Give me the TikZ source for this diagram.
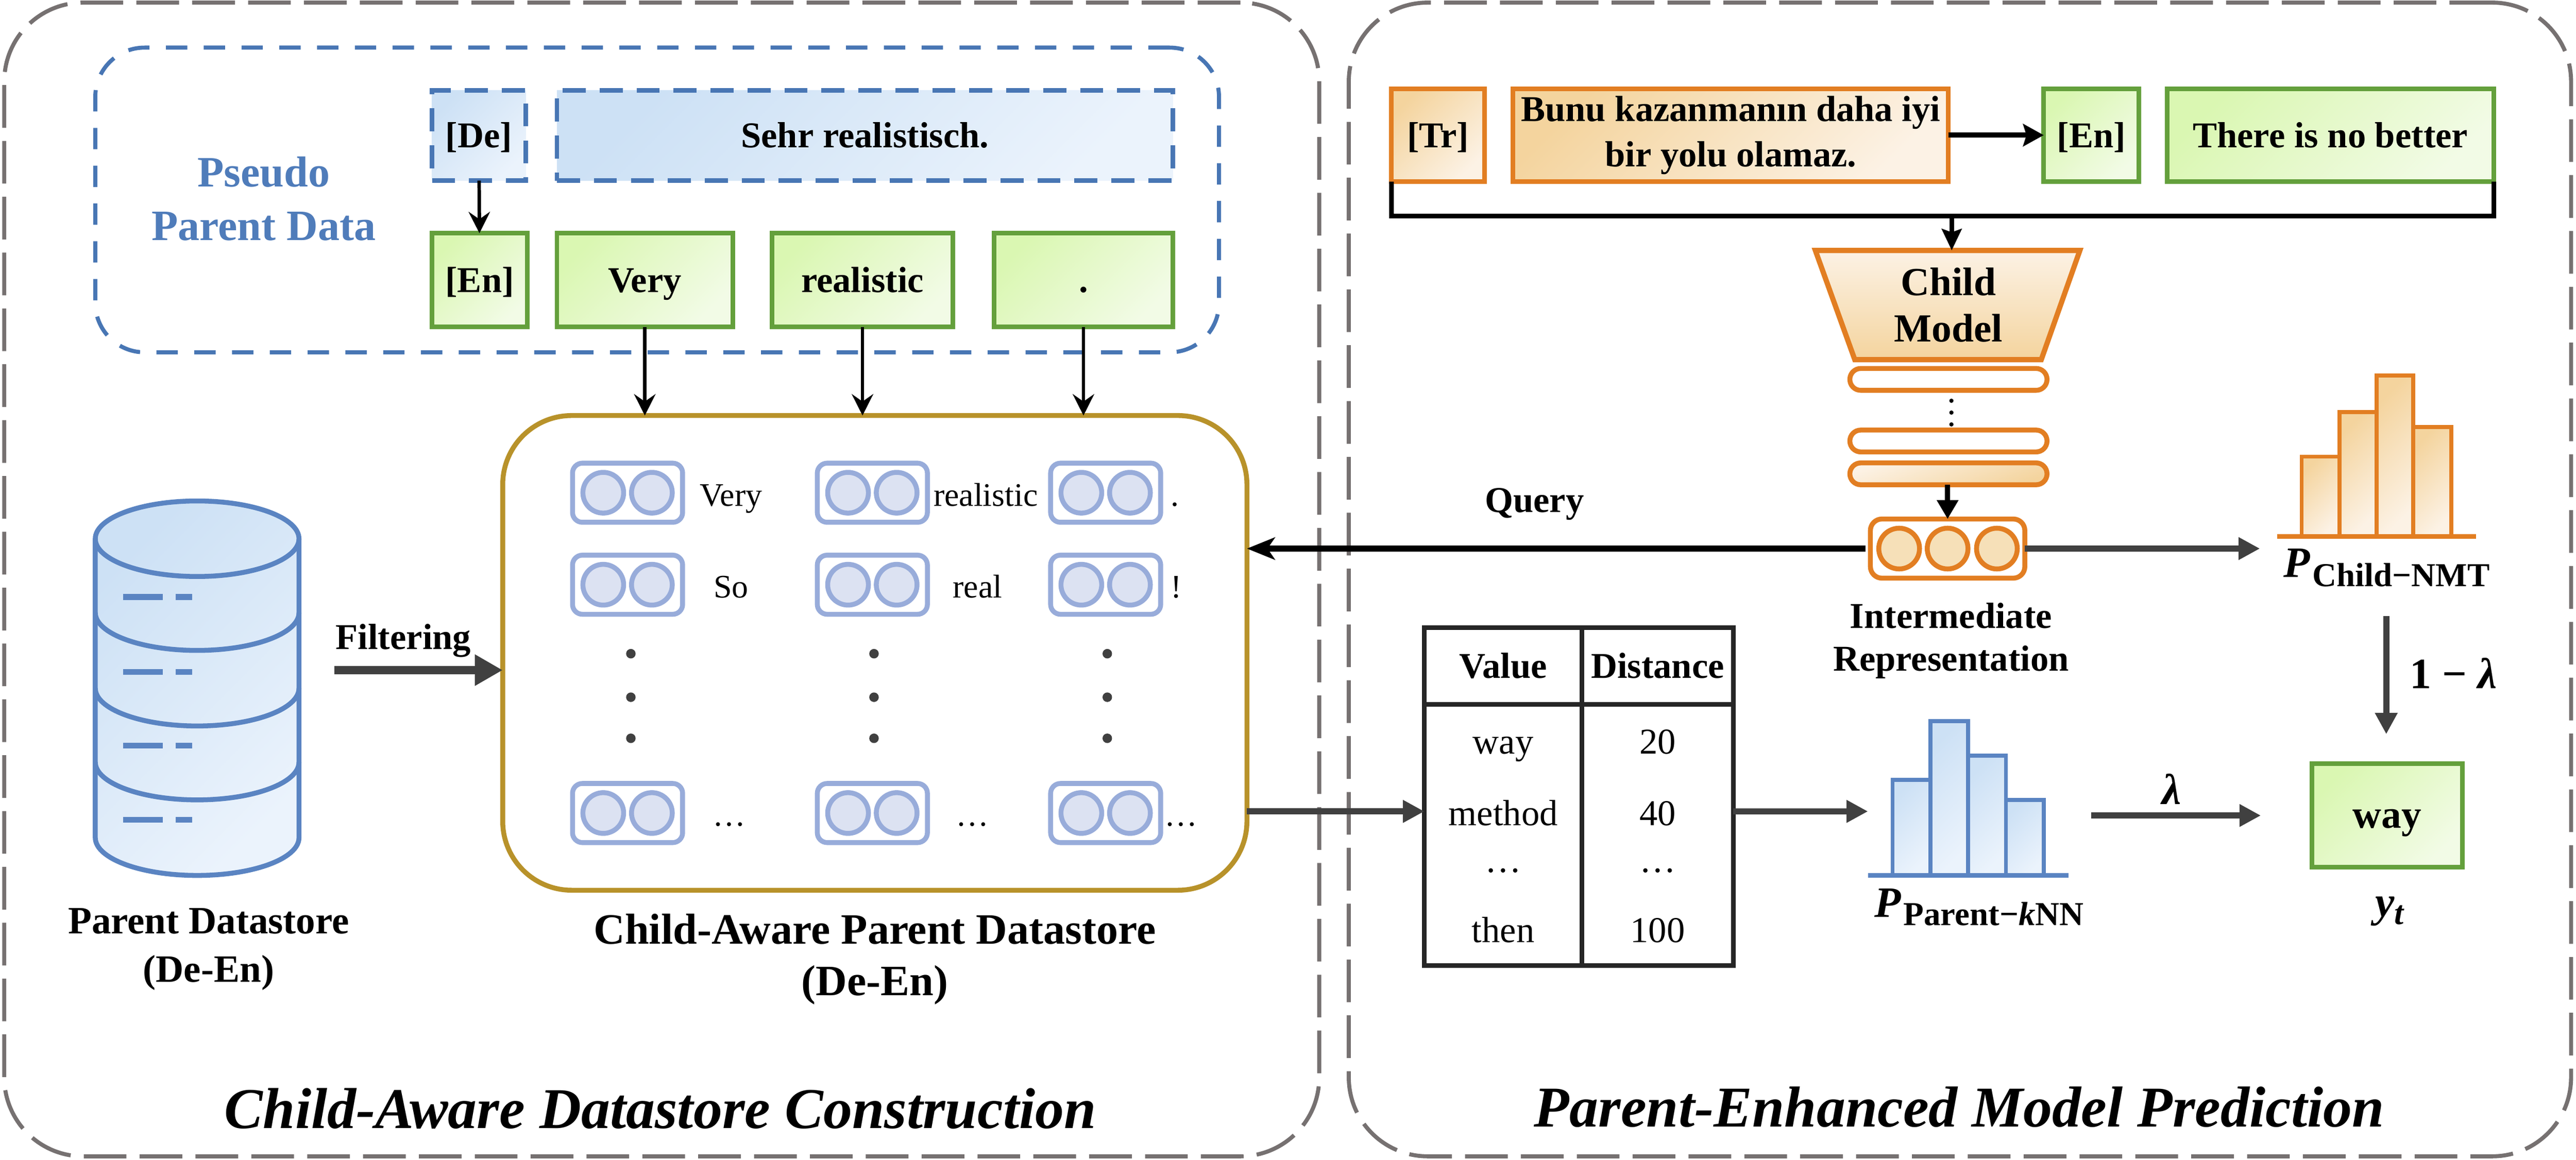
\documentclass[tikz,border=0pt]{standalone}
\usepackage{fontspec}
\setmainfont{Liberation Serif}
\usetikzlibrary{arrows.meta,calc}
\definecolor{panelgray}{HTML}{767171}
\definecolor{pblue}{HTML}{4876B4}
\definecolor{pbfA}{HTML}{CDE1F5}
\definecolor{pbfB}{HTML}{EBF3FC}
\definecolor{gstroke}{HTML}{64A03C}
\definecolor{gfA}{HTML}{DAF7B2}
\definecolor{gfB}{HTML}{F2FBE6}
\definecolor{ostroke}{HTML}{E27E22}
\definecolor{ofA}{HTML}{F4D49E}
\definecolor{ofB}{HTML}{FCF2E5}
\definecolor{ocirc}{HTML}{F6E0B8}
\definecolor{istroke}{HTML}{98ACDA}
\definecolor{ifill}{HTML}{DCE2F2}
\definecolor{gold}{HTML}{B8922A}
\definecolor{darkarrow}{HTML}{404040}
\definecolor{dbstroke}{HTML}{5A84C2}
\definecolor{textblue}{HTML}{4F7CBA}
\tikzset{
  every node/.style={inner sep=0pt, outer sep=0pt},
  panel/.style={draw=panelgray, line width=0.7pt, dash pattern=on 2.6mm off 0.8mm, rounded corners=4.8mm},
  pseudobox/.style={draw=pblue, line width=0.7pt, dash pattern=on 1.3mm off 1mm, rounded corners=3mm},
  bx/.style={font=\fontsize{6.3}{7.85}\selectfont\bfseries, align=center},
  oneline/.style={text height=1.5mm, text depth=0mm},
  gbox/.style={bx, draw=gstroke, line width=0.8pt, top color=gfA, bottom color=gfB, shading angle=45},
  obox/.style={bx, draw=ostroke, line width=0.8pt, top color=ofA, bottom color=ofB, shading angle=45},
  dbox/.style={bx, draw=pblue, line width=0.8pt, dash pattern=on 1.4mm off 0.85mm, top color=pbfA, bottom color=pbfB, shading angle=45},
  blk/.style={draw=black, line width=0.6pt, -{Stealth[length=1.3mm,width=1.3mm,inset=0.45mm]}},
  blkthick/.style={draw=black, line width=0.9pt, -{Triangle[length=1.15mm,width=1.25mm]}},
  gry/.style={draw=darkarrow, line width=1.05pt, -{Triangle[length=1.3mm,width=1.3mm]}},
  icon/.style={draw=istroke, line width=0.85pt, rounded corners=0.6mm, minimum width=6.7mm, minimum height=3.6mm, fill=white},
  icirc/.style={draw=istroke, line width=0.85pt, fill=ifill},
  ocircs/.style={draw=ostroke, line width=0.85pt, fill=ocirc},
  pill/.style={draw=ostroke, line width=0.85pt, rounded corners=0.66mm, minimum width=12mm, minimum height=1.33mm},
  lbl/.style={font=\fontsize{6.3}{7.4}\selectfont\bfseries, align=center},
  dslbl/.style={font=\fontsize{5.7}{6.8}\selectfont, anchor=base},
  cell/.style={font=\fontsize{6.3}{7.4}\selectfont, anchor=base},
  cellh/.style={font=\fontsize{6.3}{7.4}\selectfont\bfseries, anchor=base},
  ttl/.style={font=\fontsize{10}{12}\selectfont\bfseries\itshape},
  mth/.style={font=\fontsize{7.5}{9}\selectfont\bfseries},
  hbar/.style={draw=ostroke, line width=0.7pt, top color=ofA, bottom color=ofB, shading angle=45},
  bbar/.style={draw=dbstroke, line width=0.7pt, top color=pbfA, bottom color=pbfB, shading angle=45},
}
\begin{document}
\begin{tikzpicture}[x=0.1mm,y=-0.1mm]
\useasboundingbox (0,0) rectangle (1568,706.2);

% ---------------- panels
\node[panel, minimum width=80.04mm, minimum height=70.24mm] (lp) at (402.8,352.8) {};
\node[panel, minimum width=74.4mm, minimum height=70.24mm] (rp) at (1193,352.8) {};
\node[ttl] (lt) at (402,675) {Child-Aware Datastore Construction};
\node[ttl] (rt) at (1192.6,674) {Parent-Enhanced Model Prediction};

% ---------------- pseudo parent data
\node[pseudobox, minimum width=68.4mm, minimum height=18.55mm] (pseudo) at (400,121.75) {};
\node[font=\fontsize{7.5}{9.2}\selectfont\bfseries, text=textblue, align=center] (pseudolbl) at (160.5,121) {Pseudo\\Parent Data};
\node[dbox, oneline, minimum width=5.7mm, minimum height=5.5mm] (de) at (291.5,82.5) {[De]};
\node[dbox, oneline, minimum width=37.5mm, minimum height=5.5mm] (sehr) at (526.5,82.5) {Sehr realistisch.};
\node[gbox, oneline, minimum width=5.8mm, minimum height=5.7mm] (enl) at (292,170.5) {[En]};
\node[gbox, oneline, minimum width=10.7mm, minimum height=5.7mm] (very) at (392.5,170.5) {Very};
\node[gbox, oneline, minimum width=11mm, minimum height=5.7mm] (real) at (525,170.5) {realistic};
\node[gbox, oneline, minimum width=10.9mm, minimum height=5.7mm] (dotb) at (659.5,170.5) {.};
\draw[blk] (de) -- (enl);

% ---------------- child-aware datastore
\node[draw=gold, line width=0.85pt, rounded corners=4.2mm, minimum width=45.3mm, minimum height=28.9mm] (ds) at (532.5,397.5) {};
\draw[blk] (very.south) -- (very.south |- ds.north);
\draw[blk] (real.south) -- (real.south |- ds.north);
\draw[blk] (dotb.south) -- (dotb.south |- ds.north);
\foreach \cx/\cy/\nm in {382/300/ka, 531/300/kb, 673/300/kc, 382/356/kd, 531/356/ke, 673/356/kf, 382/495/kg, 531/495/kh, 673/495/ki}{
  \node[icon] (\nm) at (\cx,\cy) {};
  \draw[icirc] (\cx-14.8,\cy) circle[radius=1.24mm];
  \draw[icirc] (\cx+14.8,\cy) circle[radius=1.24mm];
}
\node[dslbl] (w1) at (445,308) {Very};
\node[dslbl] (w2) at (600,308) {realistic};
\node[dslbl] (w3) at (715,308) {.};
\node[dslbl] (w4) at (445,364) {So};
\node[dslbl] (w5) at (595,364) {real};
\node[dslbl] (w6) at (716,364) {!};
\node[dslbl] (w7) at (444,503) {…};
\node[dslbl] (w8) at (592,503) {…};
\node[dslbl] (w9) at (719,503) {…};
\foreach \dx in {384,532,674}{
  \foreach \dy in {398,424.5,449.5}{
    \fill[black!75] (\dx,\dy) circle[radius=0.29mm];
  }
}
\node[font=\fontsize{7.5}{8.9}\selectfont\bfseries, align=center] (dslbl) at (532.5,584) {Child-Aware Parent Datastore\\(De-En)};

% ---------------- parent datastore cylinder
\path[top color=pbfA, bottom color=pbfB, shading angle=45] (58,328) -- (58,510) arc[start angle=180,end angle=360,x radius=6.2mm,y radius=2.3mm] -- (182,328) arc[start angle=0,end angle=180,x radius=6.2mm,y radius=2.3mm] -- cycle;
\draw[dbstroke, line width=0.85pt] (58,328) -- (58,510) arc[start angle=180,end angle=360,x radius=6.2mm,y radius=2.3mm] -- (182,328);
\draw[dbstroke, line width=0.85pt] (120,328) ellipse[x radius=6.2mm, y radius=2.3mm];
\foreach \cy in {373,419,464}{
  \draw[dbstroke, line width=0.85pt] (58,\cy) arc[start angle=180,end angle=360,x radius=6.2mm,y radius=2.3mm];
}
\foreach \cy in {363.5,409,454,499}{
  \draw[dbstroke, line width=1pt] (75,\cy) -- (99,\cy) (107,\cy) -- (117,\cy);
}
\node[font=\fontsize{6.7}{8.4}\selectfont\bfseries, align=center] (dblbl) at (127,578) {Parent Datastore\\(De-En)};
\coordinate (dbR) at (203.6,408);
\node[lbl] (filt) at (245.5,390) {Filtering};
\draw[draw=darkarrow, line width=1.5pt, -{Triangle[length=1.7mm,width=1.8mm]}] (dbR) -- (dbR -| ds.west);

% ---------------- right panel: inputs
\node[obox, oneline, minimum width=5.66mm, minimum height=5.66mm] (tr) at (875.3,82.3) {[Tr]};
\node[obox, minimum width=26.5mm, minimum height=5.66mm] (bunu) at (1053.5,82.3) {Bunu kazanmanın daha iyi\\bir yolu olamaz.};
\node[gbox, oneline, minimum width=5.8mm, minimum height=5.66mm] (enr) at (1273,82.3) {[En]};
\node[gbox, oneline, minimum width=19.9mm, minimum height=5.66mm] (there) at (1418.5,82.3) {There is no better};
\draw[draw=black, line width=0.9pt, -{Stealth[length=1.25mm,width=1.35mm,inset=0.2mm]}] (bunu) -- (enr);
\coordinate (brL) at (847,131.5);
\coordinate (brR) at (1518,131.5);
\coordinate (brM) at (1188,131.5);
\draw[black, line width=0.8pt] (tr.south west) -- (brL) -- (brR) -- (there.south east);

% ---------------- child model
\node[minimum width=13.5mm, minimum height=6.65mm] (cm) at (1186,185.7) {};
\draw[ostroke, line width=0.9pt, top color=ofB, bottom color=ofA] (1105,152.5) -- (1266,152.5) -- (1242.5,219) -- (1129,219) -- cycle;
\node[font=\fontsize{6.9}{8.1}\selectfont\bfseries, align=center] (cmtxt) at (cm) {Child\\Model};
\draw[draw=black, line width=0.8pt, -{Stealth[length=1.3mm,width=1.2mm,inset=0.2mm]}] (brM) -- (brM |- cm.north);
\node[pill, fill=white] (l1) at (1186,231) {};
\node[pill, fill=white] (l2) at (1186,268.5) {};
\node[pill, top color=ofB, bottom color=ofA, shading angle=20] (l3) at (1186,288.5) {};
\foreach \dy in {244,251.2,258.4}{ \fill[black] (1187.8,\dy) circle[radius=0.13mm]; }

% intermediate representation
\node[draw=ostroke, line width=0.85pt, rounded corners=0.7mm, minimum width=9.4mm, minimum height=3.6mm, fill=white] (rep) at (1185.5,334) {};
\foreach \ox in {-29.5,0,30}{ \draw[ocircs] (1185.5+\ox,334) circle[radius=1.24mm]; }
\draw[blkthick] (l3.south -| rep.north) -- (rep.north);
\node[lbl] (replbl) at (1187.6,390) {Intermediate\\Representation};
\draw[draw=black, line width=1.05pt, -{Stealth[length=1.7mm,width=1.35mm,inset=0.45mm]}, shorten <=0.3mm] (rep.west) -- (rep.west -| ds.east);
\node[lbl] (query) at (934,307) {Query};

% child NMT distribution
\foreach \xa/\xb/\yt in {1401/1424/278, 1424/1446.5/251, 1446.5/1469/228.7, 1469/1492/260}{
  \path[hbar] (\xa,326.6) rectangle (\xb,\yt);
}
\draw[ostroke, line width=0.75pt] (1386,326.6) -- (1507,326.6);
\coordinate (pcIn) at (1375.6,334);
\draw[gry] (rep.east) -- (pcIn);
\node[mth, anchor=base west] (pc) at (1390,351.4) {\itshape P\hspace{0.15mm}\raisebox{-0.56mm}{\upshape\fontsize{5.8}{7}\selectfont Child−NMT}};

% ---------------- table
\node[draw=black!85, line width=0.8pt, minimum width=18.8mm, minimum height=20.6mm] (tbl) at (961,485) {};
\draw[black!85, line width=0.8pt] ($(tbl.north west)+(96,0)$) -- ($(tbl.south west)+(96,0)$);
\draw[black!85, line width=0.8pt] ($(tbl.north west)+(0,47)$) -- ($(tbl.north east)+(0,47)$);
\node[cellh] (hv) at (915,413) {Value};
\node[cellh] (hd) at (1009,413) {Distance};
\node[cell] (c11) at (915,459) {way};
\node[cell] (c12) at (1009,459) {20};
\node[cell] (c21) at (915,502.6) {method};
\node[cell] (c22) at (1009,502.6) {40};
\node[cell] (c31) at (915,531) {…};
\node[cell] (c32) at (1009,531) {…};
\node[cell] (c41) at (915,573.6) {then};
\node[cell] (c42) at (1009,573.6) {100};
\coordinate (tin) at ([yshift=-0.9mm]tbl.west);
\coordinate (tout) at ([yshift=-0.9mm]tbl.east);
\draw[gry] (tin -| ds.east) -- (tin);

% parent kNN distribution
\coordinate (hB) at (1137,494);
\draw[gry] (tout) -- (hB);
\foreach \xa/\xb/\yt in {1152/1175/474.8, 1175/1198/439, 1198/1221/460, 1221/1244/487}{
  \path[bbar] (\xa,533) rectangle (\xb,\yt);
}
\draw[dbstroke, line width=0.75pt] (1137,533) -- (1259,533);
\node[mth, anchor=base west] (pk) at (1141,558.5) {\itshape P\hspace{0.15mm}\raisebox{-0.5mm}{\upshape\fontsize{5.8}{7}\selectfont Parent−\textit{k}NN}};

% ---------------- output
\node[gbox, oneline, font=\fontsize{6.9}{8}\selectfont\bfseries, minimum width=9.17mm, minimum height=6.3mm] (way) at (1453,496.5) {way};
\coordinate (lamS) at (1273,496.5);
\draw[gry, shorten >=3.1mm] (lamS) -- (way.west);
\node[mth] (lam) at (1322,480.5) {\itshape λ};
\coordinate (omS) at (1452.5,375);
\draw[gry, shorten >=1.8mm] (omS) -- (way.north -| omS);
\node[mth] (om) at (1493.5,410) {1 − \itshape λ};
\node[mth] (yt) at (1454.5,555) {\itshape y\raisebox{-0.45mm}{\fontsize{5.8}{7}\selectfont t}};
\end{tikzpicture}
\end{document}
